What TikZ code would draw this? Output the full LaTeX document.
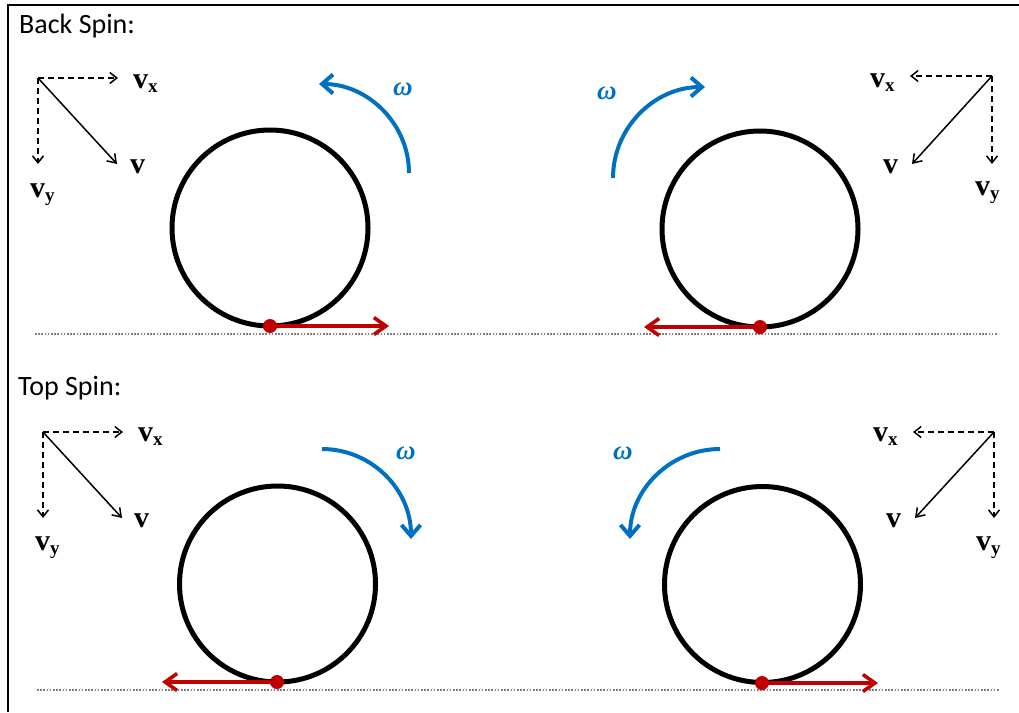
\documentclass[tikz,border=0pt]{standalone}
\usepackage{fontspec}
\setmainfont{Carlito}
\newfontfamily\serfont{Liberation Serif}
\usetikzlibrary{arrows.meta}
\definecolor{spinblue}{RGB}{0,112,192}
\definecolor{dotred}{RGB}{192,0,0}
\newcommand\vsym[1]{{\serfont\bfseries\fontsize{30}{30}\selectfont v\raisebox{-4pt}{\fontsize{19}{19}\selectfont #1}}}
\newcommand\omsym{{\serfont\bfseries\itshape\fontsize{27}{27}\selectfont ω}}
\tikzset{
  ball/.style={circle, draw, line width=5pt, minimum size=196pt, inner sep=0pt},
  contact/.style={circle, fill=dotred, minimum size=14pt, inner sep=0pt},
  slip/.style={draw=dotred, line width=3.6pt, -{Straight Barb[length=12pt,width=17pt]}},
  spin/.style={draw=spinblue, line width=4pt, -{Straight Barb[length=11pt,width=19pt]}},
  comp/.style={line width=1.5pt, dash pattern=on 6pt off 4pt, -{Straight Barb[length=7pt,width=11pt]}},
  vel/.style={line width=1.5pt, -{Straight Barb[length=8pt,width=11pt]}},
  ground/.style={draw=gray, line width=1.4pt, dash pattern=on 1.5pt off 1.7pt},
  lab/.style={anchor=base west, inner sep=0pt},
  omlab/.style={anchor=center, inner sep=0pt, text=spinblue},
  title/.style={anchor=base west, inner sep=0pt, font=\fontsize{28}{28}\selectfont}
}
\begin{document}
\begin{tikzpicture}[x=1pt, y=-1pt]
\useasboundingbox (0,0) rectangle (1019,712);
% frame
\coordinate (fTR) at (1019,5);
\coordinate (fTL) at (8,5);
\coordinate (fBL) at (8,712);
\draw[line width=2.5pt] (fTR) -- (fTL) -- (fBL);

% titles
\node[title] (t1) at (19,33) {Back Spin:};
\node[title] (t2) at (18,395) {Top Spin:};

% ground lines
\coordinate (g1a) at (35,334); \coordinate (g1b) at (998,334);
\coordinate (g2a) at (37,690); \coordinate (g2b) at (1000,690);
\draw[ground] (g1a) -- (g1b);
\draw[ground] (g2a) -- (g2b);

% ---------- balls ----------
\node[ball] (bTL) at (270,228) {};
\node[ball] (bTR) at (760,229) {};
\node[ball] (bBL) at (277.5,584) {};
\node[ball] (bBR) at (762.5,584.5) {};

% slip arrows and contact dots
\node[contact] (dTL) at (270,326) {};
\node[contact] (dTR) at (760,327) {};
\node[contact] (dBL) at (277,682) {};
\node[contact] (dBR) at (762,683) {};
\coordinate (eTL) at (389,326);
\coordinate (eTR) at (644,327);
\coordinate (eBL) at (162,682);
\coordinate (eBR) at (878,683);
\draw[slip] (dTL) -- (eTL);
\draw[slip] (dTR) -- (eTR);
\draw[slip] (dBL) -- (eBL);
\draw[slip] (dBR) -- (eBR);

% ---------- spin arcs ----------
\coordinate (sTL) at (409,173); \coordinate (aTL) at (319,84);
\draw[spin] (sTL) .. controls (409,124) and (368,84) .. (aTL);
\coordinate (sTR) at (613,178); \coordinate (aTR) at (705,87);
\draw[spin] (sTR) .. controls (613,128) and (654,87) .. (aTR);
\coordinate (sBL) at (322,449); \coordinate (aBL) at (411,539);
\draw[spin] (sBL) .. controls (371,449) and (411,489) .. (aBL);
\coordinate (sBR) at (720,449); \coordinate (aBR) at (630,539);
\draw[spin] (sBR) .. controls (671,449) and (630,489) .. (aBR);
\node[omlab] (wTL) at (403,89) {\omsym};
\node[omlab] (wTR) at (607,93) {\omsym};
\node[omlab] (wBL) at (406,453) {\omsym};
\node[omlab] (wBR) at (623,453) {\omsym};

% ---------- velocity diagrams ----------
% top left
\coordinate (oTL) at (38,78);
\coordinate (xTL) at (118,78);
\coordinate (yTL) at (38,164);
\coordinate (vTL) at (117,164);
\draw[comp] (oTL) -- (xTL);
\draw[comp] (oTL) -- (yTL);
\draw[vel] (oTL) -- (vTL);
\node[lab] (lxTL) at (133,88) {\vsym{x}};
\node[lab] (lyTL) at (30,197) {\vsym{y}};
\node[lab] (lvTL) at (130,173) {\vsym{}};
% top right
\coordinate (oTR) at (992,76);
\coordinate (xTR) at (910,76);
\coordinate (yTR) at (992,164);
\coordinate (vTR) at (912,164);
\draw[comp] (oTR) -- (xTR);
\draw[comp] (oTR) -- (yTR);
\draw[vel] (oTR) -- (vTR);
\node[lab] (lxTR) at (870,87) {\vsym{x}};
\node[lab] (lyTR) at (975,195) {\vsym{y}};
\node[lab] (lvTR) at (883,173) {\vsym{}};
% bottom left
\coordinate (oBL) at (43,432);
\coordinate (xBL) at (123,432);
\coordinate (yBL) at (43,518);
\coordinate (vBL) at (122,518);
\draw[comp] (oBL) -- (xBL);
\draw[comp] (oBL) -- (yBL);
\draw[vel] (oBL) -- (vBL);
\node[lab] (lxBL) at (138,441) {\vsym{x}};
\node[lab] (lyBL) at (35,550) {\vsym{y}};
\node[lab] (lvBL) at (134,527) {\vsym{}};
% bottom right
\coordinate (oBR) at (994,432);
\coordinate (xBR) at (913,432);
\coordinate (yBR) at (994,518);
\coordinate (vBR) at (915,518);
\draw[comp] (oBR) -- (xBR);
\draw[comp] (oBR) -- (yBR);
\draw[vel] (oBR) -- (vBR);
\node[lab] (lxBR) at (873,441) {\vsym{x}};
\node[lab] (lyBR) at (976,550) {\vsym{y}};
\node[lab] (lvBR) at (886,527) {\vsym{}};
\end{tikzpicture}
\end{document}
